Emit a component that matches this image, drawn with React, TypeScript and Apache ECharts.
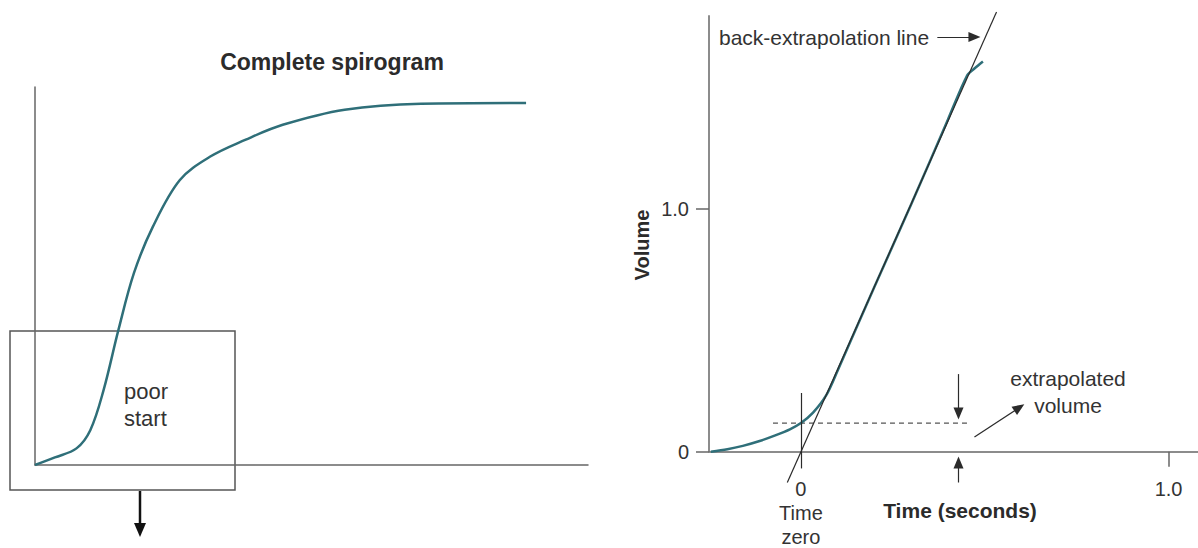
import React, { useEffect, useRef } from "react";
import * as echarts from "echarts";

// ---- Left panel: complete spirogram (arbitrary time / volume units) ----
const spiroTime = [0, 0.36, 0.75, 1.0, 1.24, 1.51, 1.79, 2.13, 2.62, 3.17, 3.8, 4.48, 5.6, 6.98, 8.88];
const spiroVolume = [0, 0.1, 0.22, 0.46, 0.99, 1.79, 2.54, 3.15, 3.77, 4.08, 4.3, 4.5, 4.7, 4.78, 4.79];

// ---- Right panel: start of the expiration ----
const startTime = [-0.245, -0.2, -0.158, -0.11, -0.068, -0.03, 0, 0.033, 0.069, 0.1, 0.2, 0.3, 0.4, 0.452, 0.472, 0.495];
const startVolume = [0, 0.01, 0.024, 0.045, 0.068, 0.092, 0.118, 0.161, 0.233, 0.335, 0.68, 1.02, 1.37, 1.551, 1.58, 1.609];

const xTickValues = [0, 1.0];
const yTickValues = [0, 1.0];

// back-extrapolation line end points (time, volume)
const backLineTime = [-0.037, 0.532];
const backLineVolume = [-0.127, 1.813];
// extrapolated volume level
const extrapolatedVolume = 0.118;
const dashedTime = [-0.076, 0.461];

const TEAL = "#2f6f79";
const AXIS = "#666";
const INK = "#2b2b2b";
const FONT = "'Liberation Sans', Arial, Helvetica, sans-serif";

// right panel scale
const X_MIN = -0.25, X_MAX = 1.08;
const Y_MAX = 1.85, Y_LOW = -0.4;
const R_TOP = 3, R_ZERO = 451.7;
const PX_PER_UNIT = (R_ZERO - R_TOP) / Y_MAX;

export default function App() {
  const ref = useRef<HTMLDivElement>(null);
  useEffect(() => {
    if (!ref.current) return;
    const chart = echarts.init(ref.current, undefined, { renderer: "svg" });

    const seg = (a: [number, number], b: [number, number], arrow = false) => [
      { coord: a, symbol: "none" },
      { coord: b, symbol: arrow ? "triangle" : "none", symbolSize: arrow ? [10, 12] : 0 },
    ];
    const hiddenAxis = {
      show: false, axisLine: { show: false }, axisTick: { show: false },
      axisLabel: { show: false }, splitLine: { show: false },
    };

    const option: any = {
      animation: false,
      textStyle: { fontFamily: FONT },
      grid: [
        { left: 35, top: 87, width: 553, height: 378, outerBoundsMode: "none", containLabel: false },
        { left: 709, top: R_TOP, right: 0, height: R_ZERO - R_TOP, outerBoundsMode: "none", containLabel: false },
        { left: 709, top: R_TOP, right: 0, height: (Y_MAX - Y_LOW) * PX_PER_UNIT, outerBoundsMode: "none", containLabel: false },
      ],
      xAxis: [
        {
          gridIndex: 0, type: "value", min: 0, max: 10,
          axisLine: { lineStyle: { color: AXIS, width: 1.5 } },
          axisTick: { show: false }, axisLabel: { show: false }, splitLine: { show: false },
        },
        {
          gridIndex: 1, type: "value", min: X_MIN, max: X_MAX,
          axisLine: { onZero: false, lineStyle: { color: AXIS, width: 1.5 } },
          axisTick: { customValues: [1.0], length: 15, lineStyle: { color: AXIS, width: 1.5 } },
          axisLabel: {
            customValues: xTickValues, margin: 25, fontSize: 20, lineHeight: 24, color: "#333",
            fontFamily: FONT,
            formatter: (v: number) => (v === 0 ? "0\nTime\nzero" : v.toFixed(1)),
          },
          splitLine: { show: false },
        },
        { gridIndex: 2, type: "value", min: X_MIN, max: X_MAX, ...hiddenAxis },
      ],
      yAxis: [
        {
          gridIndex: 0, type: "value", min: 0, max: 5,
          axisLine: { show: true, lineStyle: { color: AXIS, width: 1.5 } },
          axisTick: { show: false }, axisLabel: { show: false }, splitLine: { show: false },
        },
        {
          gridIndex: 1, type: "value", min: 0, max: Y_MAX,
          axisLine: { show: false, onZero: false },
          axisTick: { show: true, customValues: yTickValues, length: 13, lineStyle: { color: AXIS, width: 1.5 } },
          axisLabel: {
            customValues: yTickValues, margin: 20, fontSize: 20, color: "#333", fontFamily: FONT,
            formatter: (v: number) => (v === 0 ? "0" : v.toFixed(1)),
          },
          splitLine: { show: false },
        },
        { gridIndex: 2, type: "value", min: Y_LOW, max: Y_MAX, ...hiddenAxis },
      ],
      series: [
        {
          type: "line", xAxisIndex: 0, yAxisIndex: 0, smooth: 0.35,
          showSymbol: false, symbol: "none",
          lineStyle: { color: TEAL, width: 2.5 },
          data: spiroTime.map((t, i) => [t, spiroVolume[i]]),
        },
        {
          type: "line", xAxisIndex: 1, yAxisIndex: 1, showSymbol: false, symbol: "none",
          lineStyle: { color: "#555", width: 1.2, type: [5, 4] },
          data: dashedTime.map((t) => [t, extrapolatedVolume]),
        },
        {
          type: "line", xAxisIndex: 1, yAxisIndex: 1, smooth: 0.3,
          showSymbol: false, symbol: "none", z: 3,
          lineStyle: { color: TEAL, width: 2.5 },
          data: startTime.map((t, i) => [t, startVolume[i]]),
          markLine: {
            silent: true, animation: false, symbol: ["none", "none"],
            label: { show: false },
            lineStyle: { color: AXIS, width: 1.5, type: "solid" },
            data: [
              // y axis line
              seg([X_MIN, 0], [X_MIN, 1.8]),
            ],
          },
        },
        {
          type: "line", xAxisIndex: 2, yAxisIndex: 2, showSymbol: false, symbol: "none",
          data: [],
          markLine: {
            silent: true, animation: false, symbol: ["none", "none"],
            label: { show: false },
            lineStyle: { color: INK, width: 1.2, type: "solid" },
            data: [
              // back-extrapolation line
              seg([backLineTime[0], backLineVolume[0]], [backLineTime[1], backLineVolume[1]]),
              // time zero marker
              seg([0, 0.242], [0, -0.069]),
              // label arrow
              seg([0.371, 1.71], [0.472, 1.71], true),
              // down arrow
              seg([0.4286, 0.32], [0.4286, 0.158], true),
              // up arrow
              seg([0.4286, -0.127], [0.4286, -0.045], true),
              // diagonal arrow
              seg([0.472, 0.0606], [0.594, 0.182], true),
            ],
          },
        },
      ],
      graphic: [
        {
          type: "text", x: 332, y: 62,
          style: { text: "Complete spirogram", fontSize: 23, fontWeight: "bold", fontFamily: FONT, fill: INK, align: "center", verticalAlign: "middle" },
        },
        {
          type: "rect", shape: { x: 10, y: 331, width: 225, height: 159 },
          style: { fill: "none", stroke: "#555", lineWidth: 1.5 },
        },
        {
          type: "line", shape: { x1: 140, y1: 491, x2: 140, y2: 527 },
          style: { stroke: "#111", lineWidth: 2.5 },
        },
        {
          type: "polygon", shape: { points: [[134, 523], [146, 523], [140, 537]] },
          style: { fill: "#111" },
        },
        {
          type: "text", x: 124, y: 405,
          style: { text: "poor\nstart", fontSize: 22, lineHeight: 27, fontFamily: FONT, fill: "#333", align: "left", verticalAlign: "middle" },
        },
        {
          type: "text", x: 642, y: 245, rotation: Math.PI / 2,
          style: { text: "Volume", fontSize: 20, fontWeight: "bold", fontFamily: FONT, fill: INK, align: "center", verticalAlign: "middle" },
        },
        {
          type: "text", x: 960, y: 510,
          style: { text: "Time (seconds)", fontSize: 21, fontWeight: "bold", fontFamily: FONT, fill: INK, align: "center", verticalAlign: "middle" },
        },
        {
          type: "text", x: 719, y: 37,
          style: { text: "back-extrapolation line", fontSize: 21, fontFamily: FONT, fill: "#333", align: "left", verticalAlign: "middle" },
        },
        {
          type: "text", x: 1068, y: 392,
          style: { text: "extrapolated\nvolume", fontSize: 21, lineHeight: 27, fontFamily: FONT, fill: "#333", align: "center", verticalAlign: "middle" },
        },
      ],
    };
    chart.setOption(option);
    return () => chart.dispose();
  }, []);
  return (
    <div
      ref={ref}
      style={{ position: "fixed", left: 0, top: 0, width: 1198, height: 548, background: "#fff" }}
    />
  );
}
